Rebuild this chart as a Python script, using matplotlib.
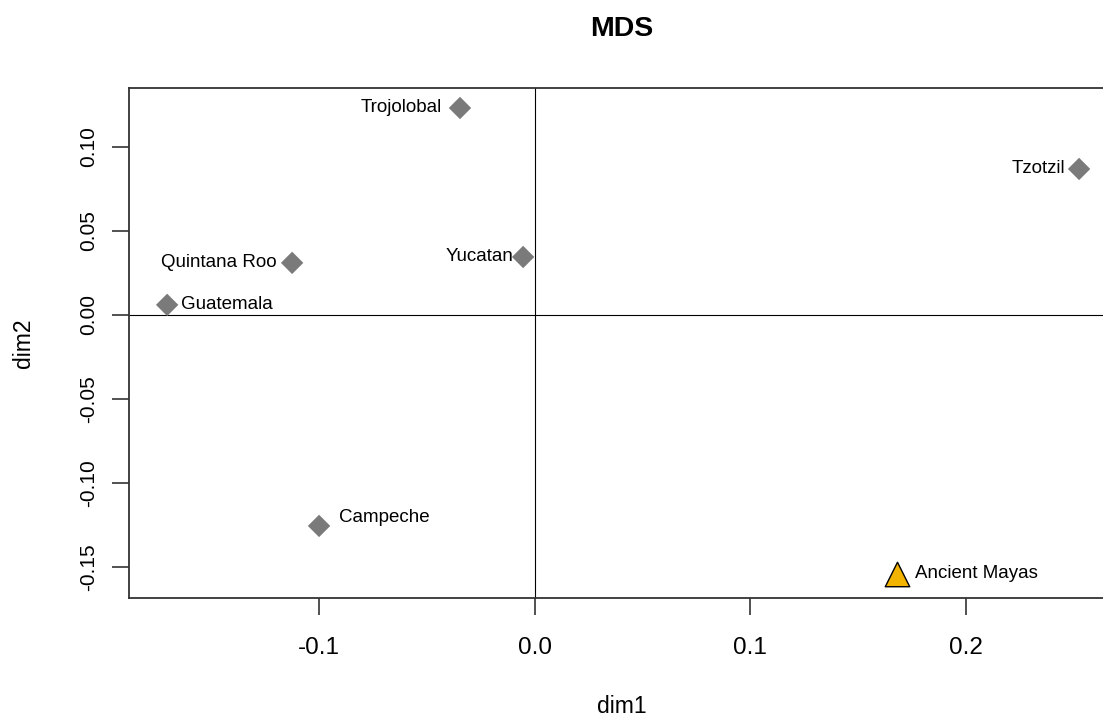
import matplotlib
matplotlib.use("Agg")
import matplotlib.pyplot as plt

plt.rcParams['font.family'] = ['Liberation Sans', 'DejaVu Sans']

names = ["Trojolobal", "Tzotzil", "Quintana Roo", "Yucatan", "Guatemala", "Campeche"]
dim1 = [-0.0346, 0.2527, -0.1125, -0.0053, -0.1705, -0.1000]
dim2 = [0.1232, 0.0869, 0.0310, 0.0345, 0.0060, -0.1256]
label_side = ["left", "left", "left", "left", "right", "right"]

anc_name = "Ancient Mayas"
anc_dim1 = [0.1682]
anc_dim2 = [-0.1542]

xticks = [-0.1, 0.0, 0.1, 0.2]
yticks = [-0.15, -0.10, -0.05, 0.00, 0.05, 0.10]

fig = plt.figure(figsize=(11.03, 7.21), dpi=100)
ax = fig.add_axes([129/1103, 123/721, (1115.5-129)/1103, (598-88)/721])

ax.axhline(0, color='black', lw=0.8, zorder=1)
ax.axvline(0, color='black', lw=0.8, zorder=1)

ax.scatter(dim1, dim2, marker='D', s=130, color='#7a7a7a', edgecolors='none', zorder=3)
ax.scatter(anc_dim1, anc_dim2, marker='^', s=310, color='#F2B400', edgecolors='black', linewidths=1.0, zorder=3)

offsets = {"Trojolobal": (-13, 0), "Tzotzil": (-10, 0), "Quintana Roo": (-11, 0),
           "Yucatan": (-7, 0), "Guatemala": (10, 0), "Campeche": (14, 6)}
for n, x, y, side in zip(names, dim1, dim2, label_side):
    dx, dy = offsets[n]
    ha = 'right' if side == "left" else 'left'
    ax.annotate(n, (x, y), xytext=(dx, dy), textcoords='offset points', ha=ha, va='center', fontsize=13.5)
ax.annotate(anc_name, (anc_dim1[0], anc_dim2[0]), xytext=(13, 0), textcoords='offset points', ha='left', va='center', fontsize=13.5)

ax.set_xlim(-0.1882, 0.2696)
ax.set_ylim(-0.1685, 0.1351)
ax.set_xticks(xticks)
ax.set_xticklabels(["%.1f" % v for v in xticks], fontsize=17.5)
ax.set_yticks(yticks)
ax.set_yticklabels(["%.2f" % v for v in yticks], fontsize=15, rotation=90, va='center')
ax.tick_params(axis='both', length=12, width=1.2, color='#333333')
ax.tick_params(axis='x', pad=16)
ax.tick_params(axis='y', pad=10)
for sp in ax.spines.values():
    sp.set_linewidth(1.3)
    sp.set_color('#333333')

ax.set_xlabel("dim1", fontsize=16.5, labelpad=26)
ax.set_ylabel("dim2", fontsize=16.5, labelpad=32)
fig.text(622/1103, 1 - 29/721, "MDS", ha='center', va='center', fontsize=20.5, fontweight='bold')

fig.savefig("out.png", dpi=100)
